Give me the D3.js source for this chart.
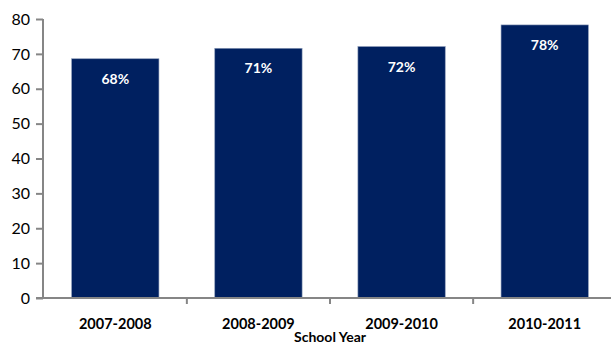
<!DOCTYPE html>
<html>
<head>
<meta charset="utf-8">
<script src="https://cdn.jsdelivr.net/npm/d3@7"></script>
<style>
  body { margin: 0; background: #fff; }
  svg { display: block; font-family: Lato, "Liberation Sans", sans-serif; }
</style>
</head>
<body>
<div id="chart"></div>
<script>
var years = ["2007-2008", "2008-2009", "2009-2010", "2010-2011"];
var values = [68.6, 71.6, 72.1, 78.3];
var valueLabels = ["68%", "71%", "72%", "78%"];
var yTicks = [0, 10, 20, 30, 40, 50, 60, 70, 80];

var w = 611, h = 344;
var padLeft = 43, padRight = 617, padTop = 19, padBottom = 298;

var svg = d3.select("#chart").append("svg")
  .attr("width", w)
  .attr("height", h);

var x = d3.scaleBand()
  .domain(years)
  .range([padLeft, padRight])
  .paddingInner(0.39)
  .paddingOuter(0.2);

var y = d3.scaleLinear()
  .domain([0, 80])
  .range([padBottom, padTop]);

// bars
svg.selectAll("rect.bar")
  .data(values)
  .enter().append("rect")
  .attr("class", "bar")
  .attr("x", function(d, i) { return x(years[i]); })
  .attr("y", function(d) { return y(d); })
  .attr("width", x.bandwidth())
  .attr("height", function(d) { return y(0) - y(d); })
  .attr("fill", "#002060")
  .attr("stroke", "#8a9ab8")
  .attr("stroke-width", 0.6);

// value labels
svg.selectAll("text.val")
  .data(values)
  .enter().append("text")
  .attr("class", "val")
  .attr("x", function(d, i) { return x(years[i]) + x.bandwidth() / 2; })
  .attr("y", function(d) { return y(d) + 25; })
  .attr("text-anchor", "middle")
  .attr("fill", "#fff")
  .attr("font-weight", "bold")
  .attr("font-size", 14)
  .text(function(d, i) { return valueLabels[i]; });

// y axis
var yAxis = svg.append("g")
  .attr("transform", "translate(" + padLeft + ",0)")
  .call(d3.axisLeft(y).tickValues(yTicks).tickSize(7).tickPadding(6));
yAxis.selectAll("path, line").attr("stroke", "#868686").attr("stroke-width", 2);
yAxis.select(".domain").attr("d", "M0," + padTop + "V" + padBottom);
yAxis.selectAll("text").attr("font-size", 16).attr("fill", "#000")
  .attr("font-family", "Lato, sans-serif");

// x axis
var xAxis = svg.append("g")
  .attr("transform", "translate(0," + padBottom + ")")
  .call(d3.axisBottom(x).tickSize(0).tickPadding(21));
xAxis.select(".domain").attr("d", "M" + (padLeft - 7) + ",0H" + w)
  .attr("stroke", "#868686").attr("stroke-width", 2);
xAxis.selectAll("text").attr("font-size", 14.5).attr("font-weight", "bold")
  .attr("fill", "#000").attr("font-family", "Lato, sans-serif");

// category separators
var step = x.step();
var seps = years.slice(1).map(function(d) { return x(d) - x.paddingInner() * step / 2; });
svg.selectAll("line.sep")
  .data(seps)
  .enter().append("line")
  .attr("class", "sep")
  .attr("x1", function(d) { return d; })
  .attr("x2", function(d) { return d; })
  .attr("y1", padBottom)
  .attr("y2", padBottom + 6)
  .attr("stroke", "#868686")
  .attr("stroke-width", 2);

// axis title
svg.append("text")
  .attr("x", (padLeft + padRight) / 2)
  .attr("y", 342)
  .attr("text-anchor", "middle")
  .attr("font-weight", "bold")
  .attr("font-size", 14)
  .text("School Year");
</script>
</body>
</html>
